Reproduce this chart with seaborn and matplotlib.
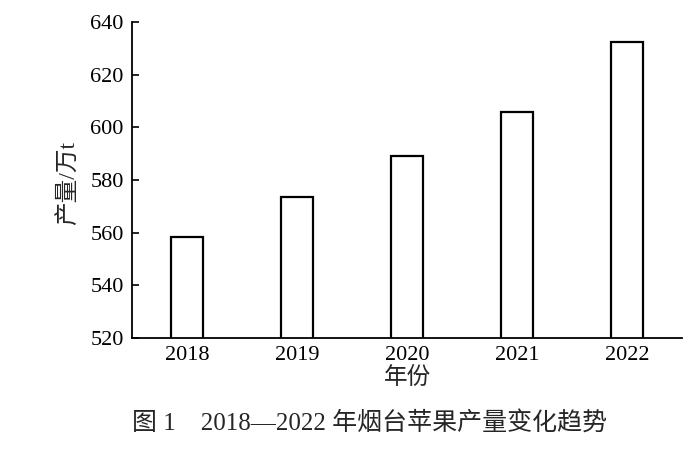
import matplotlib
matplotlib.use("Agg")
import matplotlib.pyplot as plt
import seaborn as sns

# 数据：2018-2022 年烟台苹果产量（万t）
years = ["2018", "2019", "2020", "2021", "2022"]
output = [558.5, 573.5, 589.0, 606.0, 632.3]

sns.set_style("ticks")
# 数字用衬线体，中文回退到 Noto Sans CJK SC
plt.rcParams['font.family'] = ['Liberation Serif', 'Noto Sans CJK SC']
plt.rcParams['axes.unicode_minus'] = False

fig = plt.figure(figsize=(7, 4.49), dpi=100)
ax = fig.add_axes([0.1886, 0.2472, 0.7857, 0.7038])

sns.barplot(x=years, y=output, ax=ax, width=0.29, color="white",
            edgecolor="black", linewidth=1.6)

ax.set_ylim(520, 640)
ax.set_yticks(range(520, 641, 20))
ax.set_xlim(-0.5, 4.5)

# 只保留左边和下边的轴线
sns.despine(ax=ax)
for side in ["left", "bottom"]:
    ax.spines[side].set_linewidth(1.3)
    ax.spines[side].set_color("black")

ax.tick_params(axis="y", direction="in", length=5, width=1.2, pad=6,
               labelsize=16, colors="black")
ax.tick_params(axis="x", length=0, pad=6, labelsize=16, colors="black")

ax.set_ylabel("产量/万t", fontsize=17)
ax.yaxis.label.set_va("center")
ax.yaxis.set_label_coords(-0.115, 0.49)
ax.set_xlabel("年份", fontsize=17)
ax.xaxis.label.set_va("center")
ax.xaxis.set_label_coords(0.5, -0.125)

# 图题
fig.text(370 / 700, 1 - 423 / 449, "图 1\u30002018—2022 年烟台苹果产量变化趋势",
         ha="center", va="center", fontsize=18)

fig.savefig("out.png", dpi=100)
